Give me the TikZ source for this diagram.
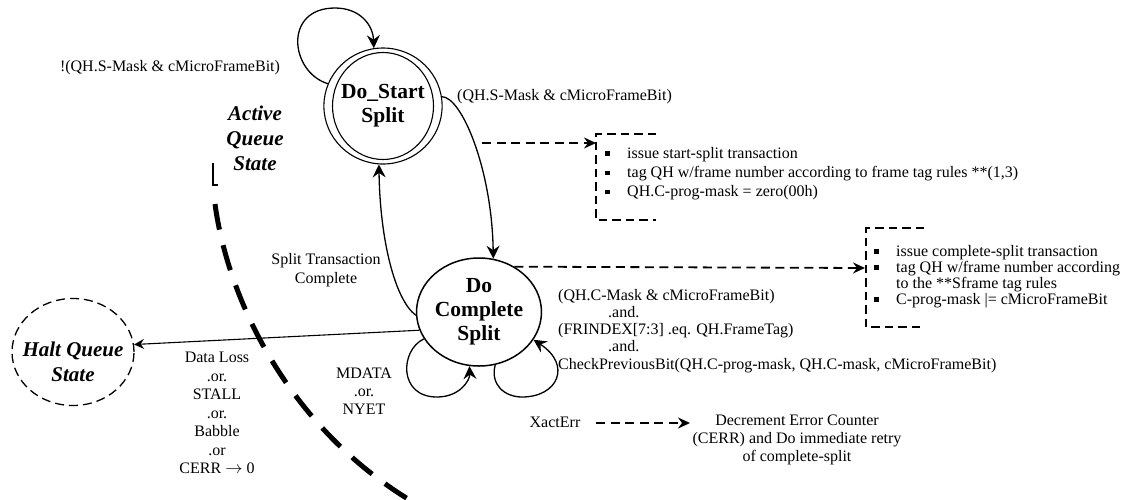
\documentclass[tikz,border=0pt]{standalone}
\usepackage{fontspec}
\setmainfont{Liberation Serif}
\usetikzlibrary{shapes.geometric,arrows.meta}
\newcommand\bsq{\makebox[22pt][l]{\raisebox{2.5pt}{\rule{4.5pt}{4.5pt}}}}
\begin{document}
\begin{tikzpicture}[x=1pt,y=-1pt,
  arr/.style={-{Stealth[length=13pt,width=13pt,inset=4.5pt]}, line width=1.3pt},
  sarr/.style={-{Stealth[length=10pt,width=10pt,inset=3.5pt]}, line width=1.1pt},
  darr/.style={-{Stealth[length=12pt,width=11pt,inset=4pt]}, line width=1.8pt, dash pattern=on 9pt off 5.5pt},
  bracket/.style={line width=1.8pt, dash pattern=on 8.5pt off 5pt},
  lbl/.style={font=\fontsize{16}{18.5}\selectfont, align=center, inner sep=0pt},
  bi/.style={font=\fontsize{21}{25}\selectfont\bfseries\itshape, align=center, inner sep=0pt},
  state/.style={ellipse, draw, line width=1.5pt, inner sep=0pt, font=\fontsize{21.5}{24}\selectfont\bfseries, align=center},
]
\useasboundingbox (0,0) rectangle (1129,499);

% states
\node[state, minimum width=110pt, minimum height=116pt, line width=1.1pt] (ds) at (383,106) {Do\_Start\\Split};
\draw[line width=1.1pt] (ds.center) ellipse (50.5pt and 53.5pt);
\node[state, minimum width=110pt, minimum height=108pt] (dc) at (479,312) {Do\\Complete\\Split};
\node[ellipse, draw, line width=1.3pt, dash pattern=on 9pt off 5pt, minimum width=122pt, minimum height=107pt, inner sep=0pt] (halt) at (73,352) {};
\node[bi] (haltt) at (73,362) {Halt Queue\\State};

% labels
\node[lbl] (l1) at (170,68) {!(QH.S-Mask \& cMicroFrameBit)};
\node[lbl, anchor=west] (l2) at (457,97) {(QH.S-Mask \& cMicroFrameBit)};
\node[bi] (aqs) at (255,138) {Active\\Queue\\State};
\node[lbl, font=\fontsize{16}{19.5}\selectfont] (stc) at (326,270) {Split Transaction\\Complete};
\node[lbl] (dl) at (217,413) {Data Loss\\.or.\\STALL\\.or.\\Babble\\.or\\CERR $\rightarrow$ 0};
\node[lbl, font=\fontsize{16}{18}\selectfont] (md) at (364,391) {MDATA\\.or.\\NYET};
\node[lbl, align=left, anchor=north west, font=\fontsize{16}{17.2}\selectfont] (cond) at (558,289)
  {(QH.C-Mask \& cMicroFrameBit)\\\hspace*{50pt}.and.\\(FRINDEX[7:3] .eq. QH.FrameTag)\\\hspace*{50pt}.and.\\CheckPreviousBit(QH.C-prog-mask, QH.C-mask, cMicroFrameBit)};
\node[lbl] (xe) at (555,422) {XactErr};
\node[lbl, font=\fontsize{16}{18}\selectfont] (dec) at (797,440) {Decrement Error Counter\\(CERR) and Do immediate retry\\of complete-split};

% boxes
\node[lbl, align=left, anchor=north west, font=\fontsize{16}{19.3}\selectfont] (b1) at (605,147)
  {\bsq issue start-split transaction\\\bsq tag QH w/frame number according to frame tag rules **(1,3)\\\bsq QH.C-prog-mask = zero(00h)};
\draw[bracket] (656,134) coordinate (b1tr) -- (596,134) coordinate (b1tl) -- (596,220) coordinate (b1bl) -- (656,220);
\node[lbl, align=left, anchor=north west, font=\fontsize{16}{16}\selectfont] (b2) at (874,245)
  {\bsq issue complete-split transaction\\\bsq tag QH w/frame number according\\\hspace*{22pt}to the **Sframe tag rules\\\bsq C-prog-mask |= cMicroFrameBit};
\draw[bracket] (924,228) coordinate (b2tr) -- (866,228) coordinate (b2tl) -- (866,327) coordinate (b2bl) -- (924,327);

% connectors
\draw[arr] (ds.158) .. controls (290,72) and (283,8) .. (335,8) .. controls (360,8) and (373,25) .. (ds.99);
\draw[arr] (ds.9) .. controls (462,97) and (492,170) .. (dc.75);
\draw[arr] (dc.183) .. controls (395,300) and (380,240) .. (ds.-94);
\draw[sarr] (dc.197) -- (halt.7);
\draw[arr] (dc.206) .. controls (400,350) and (398,397) .. (437,397) .. controls (460,397) and (470,380) .. (dc.260);
\draw[arr] (dc.287) .. controls (490,385) and (505,397) .. (522,397) .. controls (558,397) and (572,365) .. (dc.333);

\coordinate (d1s) at (482,143);
\coordinate (d1e) at (596,143);
\draw[darr] (d1s) -- (d1e);
\coordinate (d2s) at (dc.52);
\coordinate (d2e) at (865,268);
\draw[darr] (d2s) -- (d2e);
\coordinate (d3s) at (596,423);
\coordinate (d3e) at (690,423);
\draw[darr] (d3s) -- (d3e);

% boundary curve
\coordinate (bs) at (213,163);
\coordinate (bk) at (213,185);
\coordinate (bk2) at (218,185);
\draw[line width=1.2pt] (bs) -- (bk) -- (bk2);
\coordinate (c0) at (215,204);
\coordinate (c3) at (408,499);
\draw[line width=5pt, dash pattern=on 26pt off 16pt] (c0) .. controls (228,300) and (288,425) .. (c3);
\end{tikzpicture}
\end{document}
